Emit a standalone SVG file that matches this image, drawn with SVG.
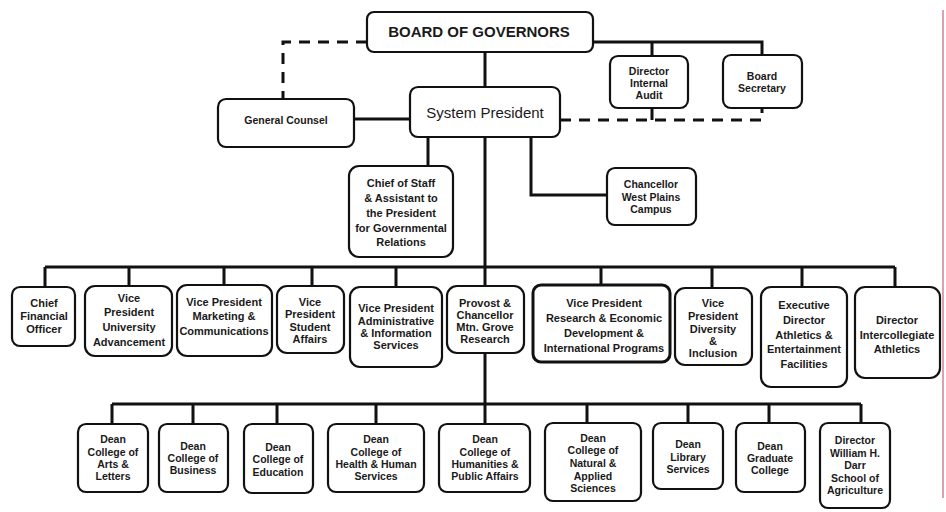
<svg xmlns="http://www.w3.org/2000/svg" width="946" height="512" viewBox="0 0 946 512">
<style>
.box{fill:#fff;stroke:#111;stroke-width:2.2}
.thick{stroke-width:3}
.ln{fill:none;stroke:#111;stroke-width:3}
.dash{fill:none;stroke:#111;stroke-width:3;stroke-dasharray:11 8}
text{font-family:"Liberation Sans",Arial,sans-serif;fill:#1a1a1a;text-anchor:middle}
.a{font-size:10.5px;font-weight:bold}
.c{font-size:11px;font-weight:bold}
.big{font-size:15px;font-weight:bold}
.sp{font-size:15px}
</style>
<rect width="946" height="512" fill="#fff"/>
<line x1="943" y1="10" x2="943" y2="498" stroke="#b5445e" stroke-width="1"/>
<g id="connectors">
<path class="ln" d="M485,52 V87"/>
<path class="dash" d="M367,42 H283 V99"/>
<path class="ln" d="M593,42 H762 V55 M652,42 V56"/>
<path class="ln" d="M354,119 H410"/>
<path class="dash" d="M560,120 H762 V108"/>
<path class="ln" d="M652,108 V120"/>
<path class="ln" d="M428,137 V166"/>
<path class="ln" d="M531,137 V195 H607"/>
<path class="ln" d="M485,137 V286 M485,353 V424"/>
<path class="ln" d="M45,267 H895 M45,267 V287 M129,267 V286 M224,267 V285 M312,267 V286 M396,267 V287 M601,267 V285 M712,267 V288 M802,267 V287 M895,267 V287"/>
<path class="ln" d="M112,404 H861 M112,404 V424 M193,404 V424 M277,404 V424 M376,404 V424 M587,404 V423 M688,404 V423 M769,404 V423 M861,404 V423"/>
</g>
<g id="board">
<rect class="box" x="367" y="12" width="226" height="40" rx="7"/>
<text class="big" x="479" y="37">BOARD OF GOVERNORS</text>
</g>
<g id="general-counsel">
<rect class="box" x="218" y="99" width="136" height="48" rx="8"/>
<text class="a" x="286" y="124">General Counsel</text>
</g>
<g id="system-president">
<rect class="box" x="410" y="87" width="150" height="50" rx="8"/>
<text class="sp" x="485" y="118">System President</text>
</g>
<g id="internal-audit">
<rect class="box" x="610" y="56" width="78" height="52" rx="8"/>
<text class="a" x="649" y="75">Director</text>
<text class="a" x="649" y="87">Internal</text>
<text class="a" x="649" y="99">Audit</text>
</g>
<g id="board-secretary">
<rect class="box" x="723" y="55" width="79" height="53" rx="8"/>
<text class="a" x="762" y="80">Board</text>
<text class="a" x="762" y="92">Secretary</text>
</g>
<g id="chief-of-staff">
<rect class="box" x="349" y="166" width="104" height="91" rx="10"/>
<text class="c" x="401" y="187">Chief of Staff</text>
<text class="c" x="401" y="202">&amp; Assistant to</text>
<text class="c" x="401" y="217">the President</text>
<text class="c" x="401" y="232">for Governmental</text>
<text class="c" x="401" y="246">Relations</text>
</g>
<g id="chancellor-west-plains">
<rect class="box" x="607" y="168" width="89" height="57" rx="8"/>
<text class="a" x="651" y="188">Chancellor</text>
<text class="a" x="651" y="201">West Plains</text>
<text class="a" x="651" y="213">Campus</text>
</g>
<g id="cfo">
<rect class="box" x="12" y="287" width="63" height="59" rx="8"/>
<text class="c" x="44" y="307">Chief</text>
<text class="c" x="44" y="320">Financial</text>
<text class="c" x="44" y="333">Officer</text>
</g>
<g id="vp-advancement">
<rect class="box" x="85" y="286" width="87" height="70" rx="10"/>
<text class="c" x="129" y="302">Vice</text>
<text class="c" x="129" y="316">President</text>
<text class="c" x="129" y="331">University</text>
<text class="c" x="129" y="346">Advancement</text>
</g>
<g id="vp-marketing">
<rect class="box" x="177" y="285" width="95" height="71" rx="10"/>
<text class="c" x="224" y="306">Vice President</text>
<text class="c" x="224" y="320">Marketing &amp;</text>
<text class="c" x="224" y="335">Communications</text>
</g>
<g id="vp-student-affairs">
<rect class="box" x="277" y="286" width="67" height="67" rx="10"/>
<text class="c" x="310" y="306">Vice</text>
<text class="c" x="310" y="318">President</text>
<text class="c" x="310" y="331">Student</text>
<text class="c" x="310" y="343">Affairs</text>
</g>
<g id="vp-admin">
<rect class="box" x="350" y="287" width="92" height="80" rx="10"/>
<text class="c" x="396" y="312">Vice President</text>
<text class="c" x="396" y="325">Administrative</text>
<text class="c" x="396" y="337">&amp; Information</text>
<text class="c" x="396" y="349">Services</text>
</g>
<g id="provost">
<rect class="box" x="447" y="286" width="77" height="67" rx="10"/>
<text class="c" x="485" y="307">Provost &amp;</text>
<text class="c" x="485" y="319">Chancellor</text>
<text class="c" x="485" y="331">Mtn. Grove</text>
<text class="c" x="485" y="343">Research</text>
</g>
<g id="vp-research">
<rect class="box thick" x="533" y="285" width="137" height="77" rx="8"/>
<text class="c" x="604" y="307">Vice President</text>
<text class="c" x="604" y="322">Research &amp; Economic</text>
<text class="c" x="604" y="337">Development &amp;</text>
<text class="c" x="604" y="352">International Programs</text>
</g>
<g id="vp-diversity">
<rect class="box" x="675" y="288" width="77" height="77" rx="10"/>
<text class="c" x="713" y="307">Vice</text>
<text class="c" x="713" y="320">President</text>
<text class="c" x="713" y="333">Diversity</text>
<text class="c" x="713" y="345">&amp;</text>
<text class="c" x="713" y="357">Inclusion</text>
</g>
<g id="exec-athletics">
<rect class="box" x="761" y="287" width="86" height="100" rx="10"/>
<text class="c" x="804" y="309">Executive</text>
<text class="c" x="804" y="324">Director</text>
<text class="c" x="804" y="339">Athletics &amp;</text>
<text class="c" x="804" y="353">Entertainment</text>
<text class="c" x="804" y="368">Facilities</text>
</g>
<g id="intercollegiate">
<rect class="box" x="855" y="287" width="85" height="91" rx="10"/>
<text class="c" x="897" y="324">Director</text>
<text class="c" x="897" y="339">Intercollegiate</text>
<text class="c" x="897" y="353">Athletics</text>
</g>
<g id="dean-arts">
<rect class="box" x="78" y="424" width="70" height="68" rx="8"/>
<text class="a" x="113" y="443">Dean</text>
<text class="a" x="113" y="456">College of</text>
<text class="a" x="113" y="468">Arts &amp;</text>
<text class="a" x="113" y="480">Letters</text>
</g>
<g id="dean-business">
<rect class="box" x="159" y="424" width="69" height="68" rx="8"/>
<text class="a" x="193" y="450">Dean</text>
<text class="a" x="193" y="462">College of</text>
<text class="a" x="193" y="474">Business</text>
</g>
<g id="dean-education">
<rect class="box" x="244" y="424" width="69" height="69" rx="8"/>
<text class="a" x="278" y="451">Dean</text>
<text class="a" x="278" y="463">College of</text>
<text class="a" x="278" y="476">Education</text>
</g>
<g id="dean-health">
<rect class="box" x="328" y="424" width="96" height="68" rx="8"/>
<text class="a" x="376" y="443">Dean</text>
<text class="a" x="376" y="456">College of</text>
<text class="a" x="376" y="468">Health &amp; Human</text>
<text class="a" x="376" y="480">Services</text>
</g>
<g id="dean-humanities">
<rect class="box" x="439" y="424" width="91" height="68" rx="8"/>
<text class="a" x="485" y="443">Dean</text>
<text class="a" x="485" y="456">College of</text>
<text class="a" x="485" y="468">Humanities &amp;</text>
<text class="a" x="485" y="480">Public Affairs</text>
</g>
<g id="dean-natural">
<rect class="box" x="545" y="423" width="96" height="78" rx="8"/>
<text class="a" x="593" y="442">Dean</text>
<text class="a" x="593" y="454">College of</text>
<text class="a" x="593" y="467">Natural &amp;</text>
<text class="a" x="593" y="480">Applied</text>
<text class="a" x="593" y="492">Sciences</text>
</g>
<g id="dean-library">
<rect class="box" x="653" y="423" width="70" height="66" rx="8"/>
<text class="a" x="688" y="448">Dean</text>
<text class="a" x="688" y="461">Library</text>
<text class="a" x="688" y="473">Services</text>
</g>
<g id="dean-graduate">
<rect class="box" x="736" y="423" width="69" height="69" rx="8"/>
<text class="a" x="770" y="450">Dean</text>
<text class="a" x="770" y="462">Graduate</text>
<text class="a" x="770" y="474">College</text>
</g>
<g id="director-agriculture">
<rect class="box" x="820" y="423" width="70" height="85" rx="8"/>
<text class="a" x="855" y="444">Director</text>
<text class="a" x="855" y="457">William H.</text>
<text class="a" x="855" y="469">Darr</text>
<text class="a" x="855" y="482">School of</text>
<text class="a" x="855" y="494">Agriculture</text>
</g>
</svg>
